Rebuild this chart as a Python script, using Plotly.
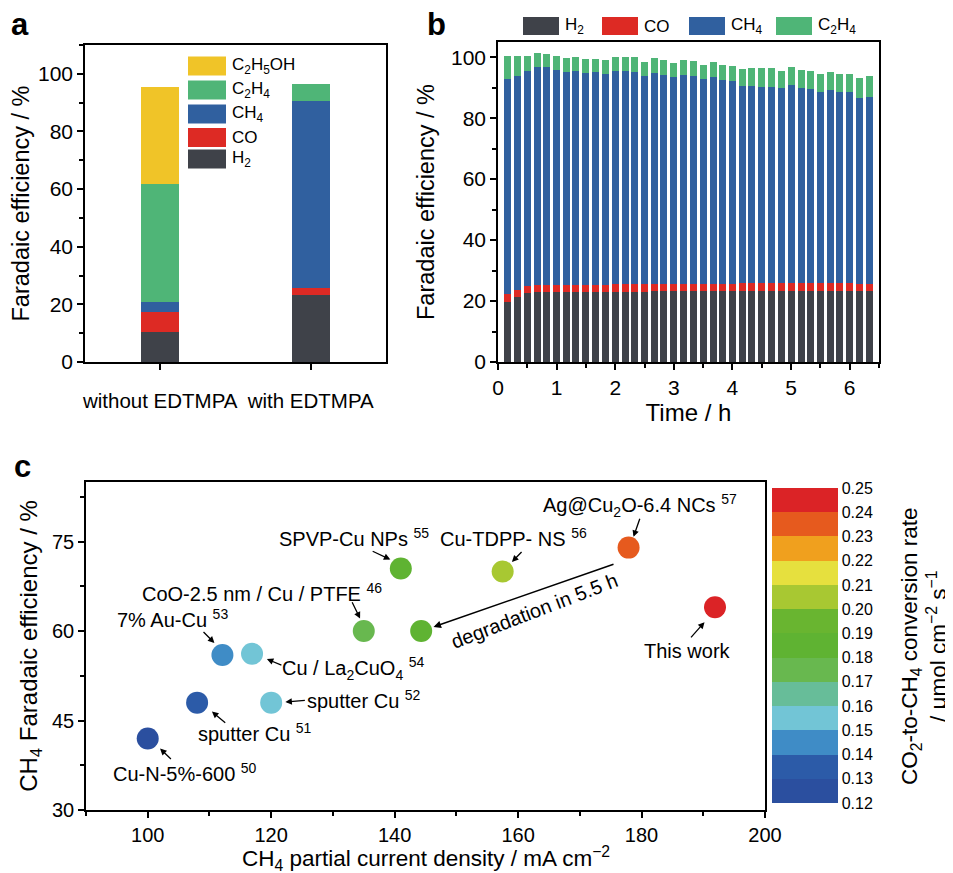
import plotly.graph_objects as go

W, H = 953, 873
def px(x): return x / W
def py(y): return 1 - y / H

FONT = "Liberation Sans, Arial, sans-serif"

# ---------------- Panel a data ----------------
a_categories = ["without EDTMPA", "with EDTMPA"]
a_H2 = [10.3, 23.4]
a_CO = [7.2, 2.3]
a_CH4 = [3.4, 64.8]
a_C2H4 = [40.8, 5.9]
a_C2H5OH = [33.6, 0.0]

# ---------------- Panel b data ----------------
b_time = [0.17, 0.33, 0.50, 0.67, 0.83, 1.00, 1.17, 1.33, 1.50, 1.67, 1.83, 2.00, 2.17,
          2.33, 2.50, 2.67, 2.83, 3.00, 3.17, 3.33, 3.50, 3.67, 3.83, 4.00, 4.17, 4.33,
          4.50, 4.67, 4.83, 5.00, 5.17, 5.33, 5.50, 5.67, 5.83, 6.00, 6.17, 6.33]
b_H2 = [19.8, 21.4, 22.6, 23.0, 23.1, 23.1, 23.1, 23.1, 23.1, 23.1, 23.1, 23.1, 23.1,
        23.1, 23.1, 23.2, 23.2, 23.2, 23.2, 23.2, 23.3, 23.3, 23.3, 23.3, 23.3, 23.3,
        23.3, 23.3, 23.3, 23.3, 23.3, 23.3, 23.3, 23.3, 23.3, 23.3, 23.2, 23.2]
b_CO = [2.5, 2.3, 2.2, 2.2, 2.3, 2.3, 2.3, 2.3, 2.3, 2.3, 2.3, 2.4, 2.4,
        2.4, 2.4, 2.4, 2.4, 2.4, 2.4, 2.4, 2.4, 2.4, 2.4, 2.4, 2.5, 2.5,
        2.5, 2.5, 2.5, 2.5, 2.5, 2.5, 2.5, 2.5, 2.5, 2.5, 2.5, 2.5]
b_CH4 = [70.7, 70.3, 70.6, 71.5, 71.3, 70.5, 69.9, 70.2, 69.3, 69.7, 69.2, 69.9, 69.9,
         69.8, 68.5, 69.1, 68.7, 68.0, 68.7, 68.4, 67.2, 67.9, 66.9, 66.6, 64.7, 64.7,
         64.6, 64.6, 64.1, 65.0, 64.0, 63.7, 62.9, 63.5, 62.7, 62.9, 60.8, 61.4]
b_C2H4 = [7.3, 6.3, 4.9, 4.8, 4.4, 4.4, 4.5, 4.6, 4.6, 4.4, 4.5, 4.8, 4.6,
          4.7, 4.6, 5.0, 4.8, 4.6, 4.8, 4.7, 4.6, 4.8, 5.0, 4.8, 5.7, 6.1,
          6.0, 6.0, 5.7, 5.9, 6.0, 5.9, 5.8, 6.0, 6.0, 5.9, 6.6, 6.6]

# ---------------- Panel c data ----------------
c_labels = ["Cu-N-5%-600 <sup>50</sup>", "sputter Cu <sup>51</sup>", "7% Au-Cu <sup>53</sup>",
            "Cu / La<sub>2</sub>CuO<sub>4</sub> <sup>54</sup>", "sputter Cu <sup>52</sup>",
            "CoO-2.5 nm / Cu / PTFE <sup>46</sup>", "", "SPVP-Cu NPs <sup>55</sup>",
            "Cu-TDPP- NS <sup>56</sup>", "Ag@Cu<sub>2</sub>O-6.4 NCs <sup>57</sup>", "This work"]
c_current = [100.0, 108.0, 112.1, 116.9, 120.0, 135.0, 144.3, 141.0, 157.5, 177.9, 191.9]
c_fe = [42.0, 48.0, 56.0, 56.2, 48.0, 60.0, 60.0, 70.5, 70.0, 74.0, 64.0]
c_rate = [0.128, 0.135, 0.145, 0.155, 0.155, 0.175, 0.185, 0.185, 0.205, 0.235, 0.245]

cbar_bounds = [0.12, 0.13, 0.14, 0.15, 0.16, 0.17, 0.18, 0.19, 0.20, 0.21, 0.22, 0.23, 0.24, 0.25]
cbar_colors = ["#2b4f9f", "#2c5ba8", "#3f8cc6", "#72c5d6", "#67bd99", "#68b84f", "#5fb332",
               "#69b530", "#a8c832", "#e6e03e", "#f0a01e", "#e65a1e", "#db2326"]

COL = {"H2": "#3f4249", "CO": "#dd2a24", "CH4": "#30609f", "C2H4": "#4fb577", "C2H5OH": "#f0c428"}

fig = go.Figure()

for name, vals in [("H2", a_H2), ("CO", a_CO), ("CH4", a_CH4), ("C2H4", a_C2H4), ("C2H5OH", a_C2H5OH)]:
    fig.add_trace(go.Bar(x=a_categories, y=vals, name=name, marker=dict(color=COL[name], line=dict(width=0)),
                         width=0.25, xaxis="x", yaxis="y", showlegend=False))

for name, vals in [("H2", b_H2), ("CO", b_CO), ("CH4", b_CH4), ("C2H4", b_C2H4)]:
    fig.add_trace(go.Bar(x=b_time, y=vals, name=name, marker=dict(color=COL[name], line=dict(width=0)),
                         width=0.12, xaxis="x2", yaxis="y2", showlegend=False))

cmin, cmax = cbar_bounds[0], cbar_bounds[-1]
cscale = []
for i, c in enumerate(cbar_colors):
    lo = (cbar_bounds[i] - cmin) / (cmax - cmin)
    hi = (cbar_bounds[i + 1] - cmin) / (cmax - cmin)
    cscale.append([lo, c])
    cscale.append([hi, c])

fig.add_trace(go.Scatter(
    x=c_current, y=c_fe, mode="markers", xaxis="x3", yaxis="y3", showlegend=False,
    marker=dict(size=22, color=c_rate, colorscale=cscale, cmin=cmin, cmax=cmax, showscale=True,
                line=dict(width=0),
                colorbar=dict(x=px(764), xanchor="left", xpad=0, y=py(637.5), yanchor="middle", ypad=0,
                              len=315, lenmode="pixels", thickness=66, thicknessmode="pixels",
                              outlinewidth=0, tickvals=cbar_bounds,
                              ticktext=["%.2f" % v for v in cbar_bounds], ticks="",
                              tickfont=dict(size=16, family=FONT, color="black"))),
))

axis_common = dict(showline=True, linecolor="black", linewidth=1.5, mirror=True, ticks="outside",
                   tickcolor="black", tickwidth=1.5, ticklen=6, showgrid=False, zeroline=False,
                   automargin=False, tickangle=0, tickfont=dict(size=21, family=FONT, color="black"))
minor_common = dict(ticks="outside", ticklen=4, tickcolor="black", tickwidth=1.5, showgrid=False)

layout = dict(
    template="none",
    width=W, height=H, margin=dict(l=0, r=0, t=0, b=0, pad=0, autoexpand=False),
    plot_bgcolor="white", paper_bgcolor="white",
    barmode="stack", bargap=0, font=dict(family=FONT, color="black"),
    xaxis=dict(axis_common, domain=[px(77), px(378)], anchor="y", type="category", range=[-0.5, 1.5],
               ticklabelstandoff=14, tickfont=dict(size=20.5, family=FONT, color="black")),
    yaxis=dict(axis_common, domain=[py(354), py(37)], anchor="x", range=[0, 110], dtick=20, tick0=0,
               minor=dict(minor_common, dtick=10),
               title=dict(text="Faradaic efficiency / %", font=dict(size=23.5, family=FONT), standoff=10)),
    xaxis2=dict(axis_common, domain=[px(490), px(871)], anchor="y2", range=[0, 6.5], dtick=1, tick0=0,
                minor=dict(minor_common, dtick=0.5),
                title=dict(text="Time / h", font=dict(size=24, family=FONT), standoff=6)),
    yaxis2=dict(axis_common, domain=[py(354), py(34)], anchor="x2", range=[0, 105], dtick=20, tick0=0,
                minor=dict(minor_common, dtick=10),
                title=dict(text="Faradaic efficiency / %", font=dict(size=23.5, family=FONT), standoff=10)),
    xaxis3=dict(axis_common, domain=[px(78), px(757)], anchor="y3", range=[90, 200], dtick=20, tick0=100,
                minor=dict(minor_common, dtick=10), tickfont=dict(size=20, family=FONT, color="black")),
    yaxis3=dict(axis_common, domain=[py(802), py(474)], anchor="x3", range=[30, 85], dtick=15, tick0=30,
                minor=dict(minor_common, dtick=7.5), tickfont=dict(size=20, family=FONT, color="black"),
                title=dict(text="CH<sub>4</sub> Faradaic efficiency / %", font=dict(size=24, family=FONT),
                           standoff=8)),
)
fig.update_layout(**layout)

shapes = []
annotations = []

# panel c x-axis title (as annotation for precise placement)
annotations.append(dict(xref="paper", yref="paper", x=px(417.5), y=py(850), xanchor="center", yanchor="middle",
                        text="CH<sub>4</sub> partial current density / mA cm<sup>\u22122</sup>", showarrow=False,
                        borderpad=0, font=dict(size=22.5, family=FONT)))

a_leg = [("C2H5OH", "C<sub>2</sub>H<sub>5</sub>OH", 58), ("C2H4", "C<sub>2</sub>H<sub>4</sub>", 82),
         ("CH4", "CH<sub>4</sub>", 106), ("CO", "CO", 129.5), ("H2", "H<sub>2</sub>", 151)]
for key, txt, yc in a_leg:
    shapes.append(dict(type="rect", xref="paper", yref="paper", x0=px(180), x1=px(218),
                       y0=py(yc + 9.5), y1=py(yc - 9.5), fillcolor=COL[key], line=dict(width=0)))
    annotations.append(dict(xref="paper", yref="paper", x=px(222), y=py(yc), xanchor="left", yanchor="middle",
                            text=txt, showarrow=False, font=dict(size=17, family=FONT)))

b_leg = [("H2", "H<sub>2</sub>", 515), ("CO", "CO", 594), ("CH4", "CH<sub>4</sub>", 681),
         ("C2H4", "C<sub>2</sub>H<sub>4</sub>", 768)]
for key, txt, x0 in b_leg:
    shapes.append(dict(type="rect", xref="paper", yref="paper", x0=px(x0), x1=px(x0 + 36),
                       y0=py(27), y1=py(9), fillcolor=COL[key], line=dict(width=0)))
    annotations.append(dict(xref="paper", yref="paper", x=px(x0 + 40), y=py(18), xanchor="left",
                            yanchor="middle", text=txt, showarrow=False, font=dict(size=17, family=FONT)))

for lab, xx, yy in [("a", 12, 16), ("b", 428, 16), ("c", 14, 458)]:
    annotations.append(dict(xref="paper", yref="paper", x=px(xx), y=py(yy), xanchor="center", yanchor="middle",
                            text="<b>%s</b>" % lab, showarrow=False, font=dict(size=31, family=FONT)))

lab_pos = [(106.0, 36.3), (117.3, 43.0), (104.0, 62.1), (133.4, 53.7), (135.0, 48.6), (118.5, 66.5),
           None, (133.4, 75.7), (159.2, 75.7), (179.8, 81.1), (187.4, 56.7)]
arrows = [((104.0, 38.3), (102.0, 40.3)), ((112.8, 44.4), (110.4, 46.5)), ((108.8, 60.1), (110.8, 58.0)),
          ((121.9, 54.2), (119.3, 55.3)), ((125.7, 48.4), (122.3, 48.1)), ((133.0, 65.1), (134.4, 62.1)),
          None, ((136.2, 73.5), (139.3, 72.0)), ((160.8, 73.5), (159.0, 71.6)),
          ((179.8, 79.1), (178.7, 75.8)), ((187.8, 58.7), (190.2, 61.5))]
for lab, pos, arr in zip(c_labels, lab_pos, arrows):
    if pos is None:
        continue
    annotations.append(dict(xref="x3", yref="y3", x=pos[0], y=pos[1], text=lab, showarrow=False,
                            xanchor="center", yanchor="middle", font=dict(size=20, family=FONT)))
    (tx, ty), (hx, hy) = arr
    annotations.append(dict(xref="x3", yref="y3", axref="x3", ayref="y3", x=hx, y=hy, ax=tx, ay=ty,
                            text="", showarrow=True, arrowhead=2, arrowsize=1, arrowwidth=1.3,
                            arrowcolor="black"))

annotations.append(dict(xref="x3", yref="y3", axref="x3", ayref="y3", x=146.3, y=60.7, ax=175.7, ay=71.3,
                        text="", showarrow=True, arrowhead=2, arrowsize=1, arrowwidth=1.5, arrowcolor="black"))
annotations.append(dict(xref="x3", yref="y3", x=162.6, y=63.4, text="degradation in 5.5 h", showarrow=False,
                        textangle=-21, font=dict(size=20, family=FONT)))

annotations.append(dict(xref="paper", yref="paper", x=px(916), y=py(638), textangle=-90, showarrow=False,
                        xanchor="center", yanchor="middle", borderpad=0,
                        text=("CO<sub>2</sub>-to-CH<sub>4</sub> conversion rate<br>"
                              "/ \u03bcmol cm<sup>\u22122</sup> s<sup>\u22121</sup>"),
                        font=dict(size=22.5, family=FONT)))

fig.update_layout(shapes=shapes, annotations=annotations)
fig.write_html("out.html")
